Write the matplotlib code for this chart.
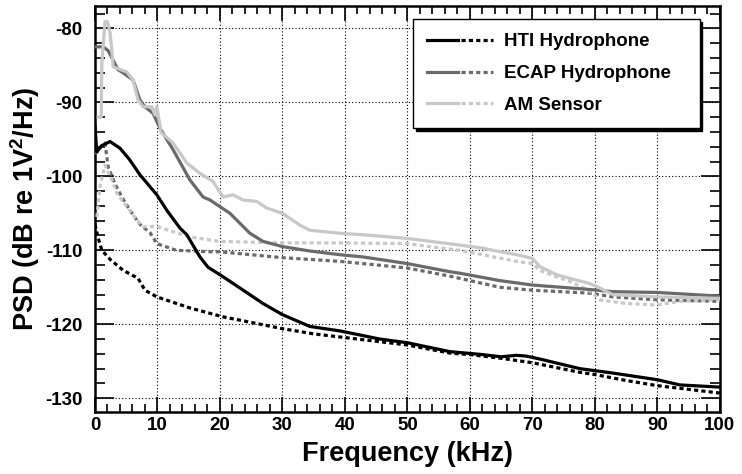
import matplotlib
matplotlib.use("Agg")
import matplotlib.pyplot as plt
from matplotlib.legend_handler import HandlerTuple
from matplotlib.lines import Line2D
from matplotlib.ticker import MultipleLocator

plt.rcParams['font.family'] = ['Liberation Sans', 'DejaVu Sans']
plt.rcParams['axes.unicode_minus'] = False
plt.rcParams['mathtext.fontset'] = 'custom'
plt.rcParams['mathtext.bf'] = 'Liberation Sans:bold'
plt.rcParams['mathtext.rm'] = 'Liberation Sans'

# ---- data (frequency in kHz, PSD in dB re 1V^2/Hz) ----
hti_solid_f = [0, 0.3, 1.0, 2.4, 4.0, 5.5, 7.2, 9.9, 11.5, 13.6, 14.7, 16.8, 18.1, 20, 23.2, 26.9, 30, 34.4, 39.2, 45.6, 50, 56.8, 62, 65, 67.5, 69, 71.2, 77.6, 82.9, 90, 93.6, 100]
hti_solid_p = [-93.3, -96.7, -95.9, -95.3, -96.2, -97.7, -99.8, -102.5, -104.6, -107.0, -107.9, -110.9, -112.3, -113.3, -115.1, -117.2, -118.7, -120.3, -120.9, -122.0, -122.5, -123.7, -124.1, -124.4, -124.2, -124.3, -124.7, -126.0, -126.6, -127.5, -128.2, -128.5]

hti_dot_f = [0, 0.5, 1.1, 2.5, 4.5, 6.9, 8.0, 9.9, 15.2, 20.5, 25.9, 30, 35, 40, 45, 50, 56.8, 60, 65, 70, 77.6, 80, 85, 90, 95, 100]
hti_dot_p = [-106.5, -108.3, -110.0, -111.3, -112.7, -113.8, -115.4, -116.3, -117.8, -119.0, -119.9, -120.6, -121.3, -121.8, -122.3, -122.8, -123.9, -124.1, -124.6, -125.2, -126.5, -126.8, -127.6, -128.3, -128.8, -129.3]

ecap_solid_f = [0, 1.3, 2.1, 2.9, 3.7, 4.5, 6.1, 7.2, 8.0, 9.3, 10.4, 12.5, 15.2, 17.3, 18.4, 20, 21.6, 24.8, 26.9, 30, 34.4, 39.2, 42.9, 50, 56.8, 58.4, 64.8, 70, 79.2, 82.9, 90, 100]
ecap_solid_p = [-82.5, -82.5, -83.0, -84.3, -85.6, -86.0, -87.0, -89.7, -90.6, -91.5, -93.5, -96.4, -100.5, -102.8, -103.2, -104.1, -105.0, -107.7, -108.8, -109.5, -110.1, -110.6, -110.9, -111.8, -112.9, -113.1, -114.1, -114.7, -115.3, -115.6, -115.7, -116.2]

ecap_dot_f = [0, 0.8, 1.6, 2.1, 3.2, 4.3, 5.6, 7.2, 8.8, 9.9, 13.0, 18.4, 20, 30, 39.2, 42.9, 50, 56.8, 58.4, 64.8, 70, 79.2, 82.9, 90, 100]
ecap_dot_p = [-97.0, -96.2, -95.5, -98.7, -101.0, -102.8, -104.6, -106.5, -107.6, -109.1, -110.0, -110.2, -110.2, -111.0, -111.5, -111.8, -112.4, -113.5, -113.8, -115.0, -115.4, -115.8, -116.3, -116.7, -116.9]

am_solid_f = [0.5, 1.0, 1.1, 1.6, 2.0, 2.4, 2.7, 2.9, 5.1, 6.1, 6.9, 7.7, 9.1, 9.6, 9.9, 10.6, 12.5, 14.7, 16.8, 18.9, 20.5, 22.1, 23.7, 25.9, 27.5, 30, 32.8, 34.4, 39.2, 42.9, 50, 58.4, 62, 64.8, 67.5, 70, 71.2, 73.9, 76, 79.2, 80.8, 82.9, 90, 100]
am_solid_p = [-92.0, -92.0, -84.7, -79.1, -79.1, -80.5, -83.0, -85.2, -85.9, -87.0, -89.7, -90.6, -90.6, -91.7, -90.6, -94.1, -95.5, -98.2, -99.6, -100.7, -102.8, -102.5, -103.2, -103.4, -104.3, -105.0, -106.6, -107.3, -107.7, -107.9, -108.4, -109.3, -109.7, -110.2, -110.6, -111.1, -112.2, -113.3, -113.8, -114.5, -115.1, -116.0, -116.3, -116.5]

am_dot_f = [0.3, 0.8, 1.6, 2.7, 3.5, 5.1, 6.7, 7.7, 9.9, 15.2, 20, 30, 39.2, 50, 53.6, 58.4, 62, 67.5, 70, 71.2, 73.9, 76, 79.2, 80.8, 85, 90, 93.6, 100]
am_dot_p = [-105.5, -101.4, -98.5, -100.5, -102.3, -104.1, -105.9, -106.8, -106.8, -108.2, -108.8, -109.0, -109.0, -109.1, -109.5, -110.0, -110.6, -111.5, -111.8, -112.7, -113.6, -114.2, -115.5, -116.7, -117.2, -117.4, -116.9, -116.7]

labels = ["HTI Hydrophone", "ECAP Hydrophone", "AM Sensor"]
colors = ["#000000", "#6a6a6a", "#c8c8c8"]

fig = plt.figure(figsize=(7.42, 4.74), dpi=100)
ax = fig.add_axes([0.128, 0.131, 0.842, 0.856])

dot_style = (0, (1.3, 1.0))
lw = 2.3
series = [(hti_solid_f, hti_solid_p, hti_dot_f, hti_dot_p),
          (ecap_solid_f, ecap_solid_p, ecap_dot_f, ecap_dot_p),
          (am_solid_f, am_solid_p, am_dot_f, am_dot_p)]
handles = []
for (sf, sp, df, dp), c in zip(series, colors):
    ax.plot(df, dp, color=c, lw=lw, linestyle=dot_style, zorder=3)
for (sf, sp, df, dp), c in zip(series, colors):
    ax.plot(sf, sp, color=c, lw=lw, zorder=4)
for c in colors:
    h1 = Line2D([], [], color=c, lw=lw)
    h2 = Line2D([], [], color=c, lw=lw, linestyle=dot_style)
    handles.append((h1, h2))

ax.set_xlim(0, 100)
ax.set_ylim(-131.85, -77)
ax.xaxis.set_major_locator(MultipleLocator(10))
ax.xaxis.set_minor_locator(MultipleLocator(2))
ax.yaxis.set_major_locator(MultipleLocator(10))
ax.yaxis.set_minor_locator(MultipleLocator(2))
ax.tick_params(which='both', direction='in', top=True, right=True, width=1.2, color='black')
ax.tick_params(axis='y', which='major', length=14)
ax.tick_params(axis='y', which='minor', length=7)
ax.tick_params(axis='x', which='major', length=11)
ax.tick_params(axis='x', which='minor', length=5.5)
ax.tick_params(axis='y', labelsize=13.5, pad=9)
ax.tick_params(axis='x', labelsize=13.5, pad=4)
for lab in ax.get_xticklabels() + ax.get_yticklabels():
    lab.set_fontweight('bold')
for s in ax.spines.values():
    s.set_linewidth(1.8)
ax.grid(True, which='major', linestyle=(0, (1, 2)), color='black', lw=0.8)

ax.set_xlabel("Frequency (kHz)", fontsize=19.5, fontweight='bold', labelpad=5)
ax.set_ylabel("PSD (dB re 1V$^\\mathbf{2}$/Hz)", fontsize=19.5, fontweight='bold', labelpad=2)

leg = ax.legend(handles, labels, handler_map={tuple: HandlerTuple(ndivide=None, pad=0.15)},
                loc='upper left', bbox_to_anchor=(0.5088, 0.958, 0.459, 0.01), mode='expand',
                handlelength=3.5, prop={'weight': 'bold', 'size': 13.5}, fancybox=False,
                shadow={'color': 'black', 'alpha': 1.0}, framealpha=1, edgecolor='black',
                labelspacing=0.78, borderpad=0.75, handletextpad=0.6, borderaxespad=0)
leg.get_frame().set_linewidth(1.0)
leg.set_zorder(10)

fig.savefig("out.png", dpi=100)
